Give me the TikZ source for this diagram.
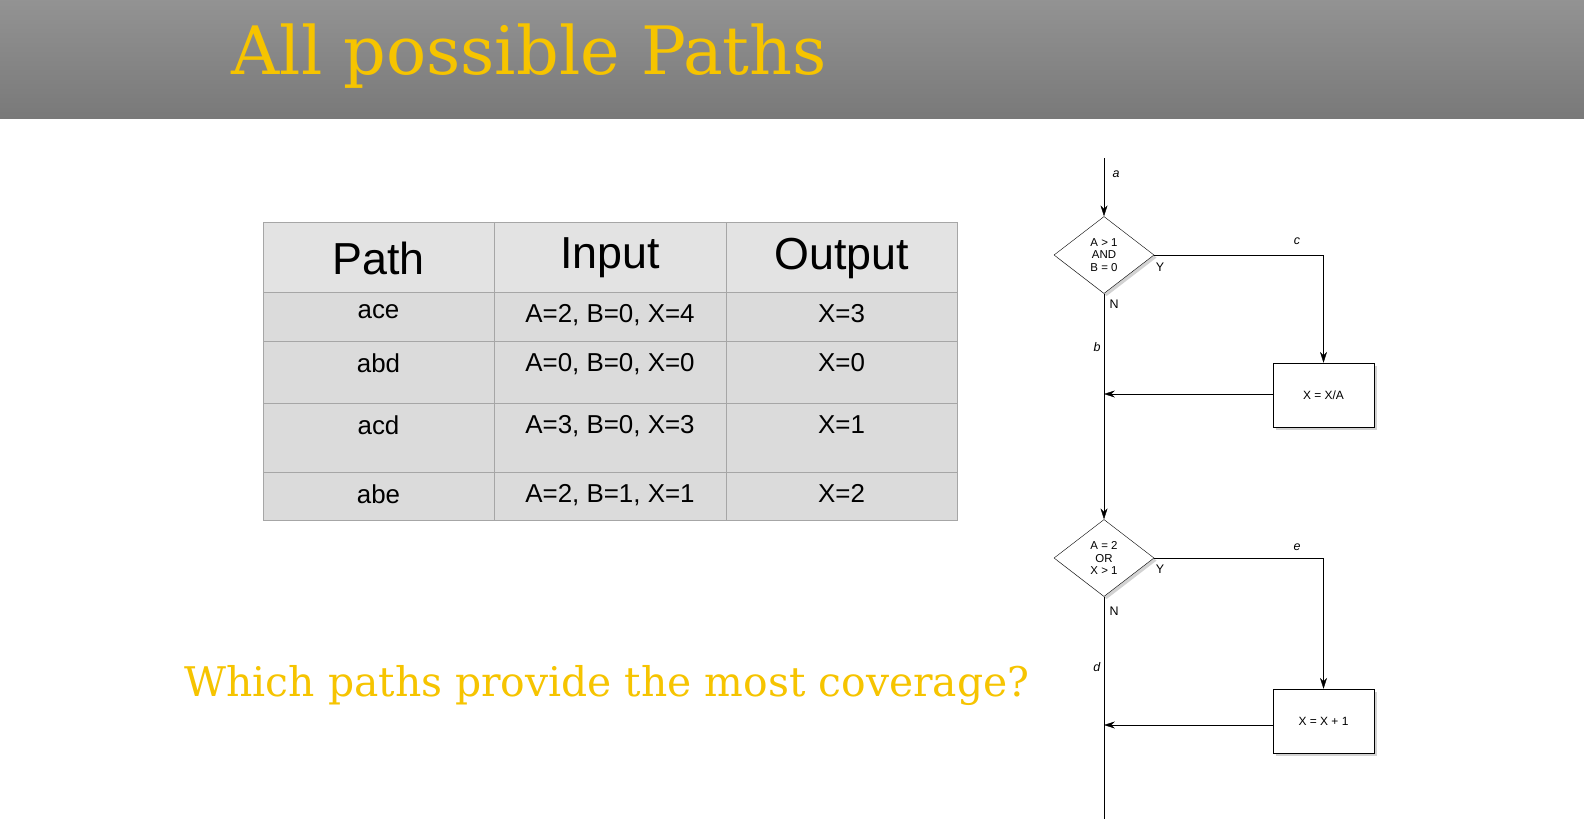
\documentclass[tikz,border=0pt]{standalone}
\usepackage{fontspec}
\setmainfont{DejaVu Serif}
\setsansfont{Liberation Sans}
\usetikzlibrary{shapes.geometric,shadows,arrows.meta}
\definecolor{gold}{RGB}{246,196,0}
\begin{document}
\begin{tikzpicture}[x=1bp, y=-1bp, >={Stealth[length=11pt,width=7pt]},
    decision/.style={diamond, draw, fill=white, aspect=1.3, inner sep=0pt, minimum width=100bp, minimum height=77bp, align=center, font=\sffamily\fontsize{11.5}{12.5}\selectfont, drop shadow={opacity=0.35}},
    block/.style={rectangle, draw, fill=white, minimum width=101bp, minimum height=64bp, font=\sffamily\fontsize{12}{12}\selectfont, drop shadow={opacity=0.35}},
    tag/.style={font=\sffamily\fontsize{12.5}{12.5}\selectfont}]
\useasboundingbox (0,0) rectangle (1584,819);
\fill[white] (0,0) rectangle (1584,819);
% header
\shade[top color=gray!85, bottom color=gray!95!black] (0,0) rectangle (1584,118);
\node[anchor=west, text=gold, font=\fontsize{67}{67}\selectfont] (title) at (228,56) {All possible Paths};
% table
\fill[gray!28] (263,222) rectangle (957,520);
\fill[gray!22] (263,222) rectangle (957,292);
\foreach \y/\p/\i/\o [count=\r] in {292/ace/{A=2, B=0, X=4}/X=3, 341/abd/{A=0, B=0, X=0}/X=0, 403/acd/{A=3, B=0, X=3}/X=1, 472/abe/{A=2, B=1, X=1}/X=2} {
  \node[anchor=north, font=\sffamily\fontsize{26}{28}\selectfont] (p\r) at (378.5,\y+9) {\p};
  \node[anchor=north, font=\sffamily\fontsize{26}{28}\selectfont] (i\r) at (610,\y+9) {\i};
  \node[anchor=north, font=\sffamily\fontsize{26}{28}\selectfont] (o\r) at (841.5,\y+9) {\o};
}
\node[font=\sffamily\fontsize{45}{46}\selectfont] (hpath) at (378.5,258) {Path};
\node[font=\sffamily\fontsize{45}{46}\selectfont] (hin) at (610,258) {Input};
\node[font=\sffamily\fontsize{45}{46}\selectfont] (hout) at (841.5,258) {Output};
\draw[gray!70] (263,222) rectangle (957,520);
\foreach \x in {494,726} \draw[gray!70] (\x,222) -- (\x,520);
\foreach \y in {292,341,403,472} \draw[gray!70] (263,\y) -- (957,\y);
% question
\node[text=gold, font=\fontsize{41}{41}\selectfont] (question) at (607,686) {Which paths provide the most coverage?};
% flowchart
\coordinate (start) at (1104,158);
\node[decision] (d1) at (1104,255) {A > 1\\AND\\B = 0};
\node[block] (b1) at (1323.5,395) {X = X/A};
\coordinate (j1) at (1104,394);
\node[decision] (d2) at (1104,558) {A = 2\\OR\\X > 1};
\node[block] (b2) at (1323.5,721) {X = X + 1};
\coordinate (j2) at (1104,725);
\coordinate (end) at (1104,819);
\draw[->] (start) -- (d1.north);
\draw[->] (d1.east) -| (b1.north);
\draw (d1.south) -- (j1);
\draw[->] (b1.west |- j1) -- (j1);
\draw[->] (j1) -- (d2.north);
\draw[->] (d2.east) -| (b2.north);
\draw (d2.south) -- (j2);
\draw[->] (b2.west |- j2) -- (j2);
\draw (j2) -- (end);
\node[tag] (la) at (1116,174) {\textit{a}};
\node[tag] (lc) at (1297,241) {\textit{c}};
\node[tag] (ly1) at (1160,267) {Y};
\node[tag] (ln1) at (1114,304) {N};
\node[tag] (lb) at (1097,347) {\textit{b}};
\node[tag] (le) at (1297,547) {\textit{e}};
\node[tag] (ly2) at (1160,569) {Y};
\node[tag] (ln2) at (1114,611) {N};
\node[tag] (ld) at (1097,667) {\textit{d}};
\end{tikzpicture}
\end{document}
